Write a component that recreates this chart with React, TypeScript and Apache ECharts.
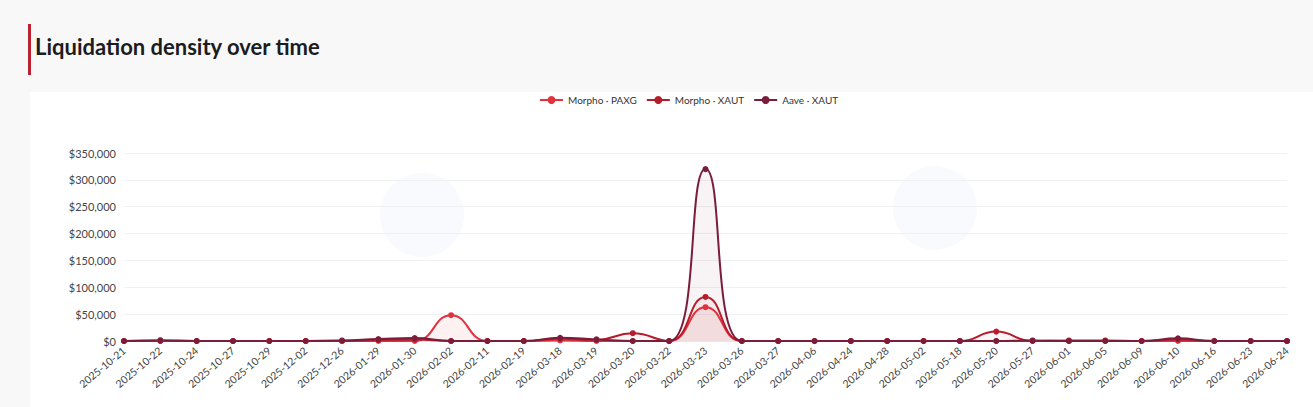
import React, { useEffect, useRef } from "react";
import * as echarts from "echarts";

const categories = [
  "2025-10-21", "2025-10-22", "2025-10-24", "2025-10-27", "2025-10-29", "2025-12-02",
  "2025-12-26", "2026-01-29", "2026-01-30", "2026-02-02", "2026-02-11", "2026-02-19",
  "2026-03-18", "2026-03-19", "2026-03-20", "2026-03-22", "2026-03-23", "2026-03-26",
  "2026-03-27", "2026-04-06", "2026-04-24", "2026-04-28", "2026-05-02", "2026-05-18",
  "2026-05-20", "2026-05-27", "2026-06-01", "2026-06-05", "2026-06-09", "2026-06-10",
  "2026-06-16", "2026-06-23", "2026-06-24",
];

const morphoPaxg = [
  0, 0, 0, 0, 0, 0, 0, 0, 0, 48000, 0, 0, 1000, 0, 0, 0, 63000, 0,
  0, 0, 0, 0, 0, 0, 0, 0, 0, 0, 0, 0, 0, 0, 0,
];

const morphoXaut = [
  0, 0, 0, 0, 0, 0, 0, 2000, 3000, 0, 0, 0, 4000, 2000, 14500, 0, 82000, 0,
  0, 0, 0, 0, 0, 0, 17500, 0, 1000, 1000, 0, 3000, 0, 0, 0,
];

const aaveXaut = [
  0, 1500, 0, 0, 0, 0, 1000, 3500, 5500, 0, 0, 0, 6000, 3000, 0, 0, 320000, 0,
  0, 0, 0, 0, 0, 0, 0, 1000, 0, 0, 0, 5000, 0, 0, 0,
];

const yTicks = { min: 0, max: 350000, interval: 50000 };

const seriesNames = ["Morpho · PAXG", "Morpho · XAUT", "Aave · XAUT"];
const colors = ["#e0323f", "#b51c2c", "#7a1c3a"];
const fills = ["rgba(224,50,63,0.10)", "rgba(181,28,44,0.06)", "rgba(122,28,58,0.08)"];

export default function App() {
  const ref = useRef<HTMLDivElement>(null);
  useEffect(() => {
    document.body.style.margin = "0";
    const chart = echarts.init(ref.current!, undefined, { renderer: "svg" });
    const font = "Lato, 'Noto Sans', sans-serif";
    const data = [morphoPaxg, morphoXaut, aaveXaut];
    chart.setOption({
      animation: false,
      backgroundColor: "#f8f8f9",
      textStyle: { fontFamily: font },
      graphic: [
        { type: "rect", left: 30, top: 92, shape: { width: 1283, height: 315 }, style: { fill: "#ffffff" }, z: -10 },
        { type: "circle", shape: { cx: 422, cy: 215, r: 42 }, style: { fill: "#f9fafd" }, z: -9 },
        { type: "circle", shape: { cx: 935, cy: 208, r: 42 }, style: { fill: "#f9fafd" }, z: -9 },
        { type: "rect", left: 28, top: 24, shape: { width: 3, height: 51 }, style: { fill: "#b8232f" } },
        {
          type: "text",
          left: 35,
          top: 35,
          style: {
            text: "Liquidation density over time",
            fontSize: 22,
            fontWeight: "bold",
            fill: "#1c1c1e",
            fontFamily: font,
          },
        },
      ],
      legend: {
        top: 90,
        left: 534,
        itemWidth: 23,
        itemHeight: 10,
        itemGap: 9,
        textStyle: { fontSize: 10, color: "#333", fontFamily: font },
        data: seriesNames,
      },
      grid: { left: 124, right: 26, top: 153, bottom: 66, containLabel: false },
      xAxis: {
        type: "category",
        boundaryGap: false,
        data: categories,
        axisLine: { lineStyle: { color: "#e6e6e6" } },
        axisTick: { show: false },
        axisLabel: { interval: 0, rotate: 40, fontSize: 10.5, color: "#444", margin: 8, fontFamily: font },
      },
      yAxis: {
        type: "value",
        min: yTicks.min,
        max: yTicks.max,
        interval: yTicks.interval,
        axisLine: { show: false },
        axisTick: { show: false },
        splitLine: { lineStyle: { color: "#eff0f2" } },
        axisLabel: {
          fontSize: 11,
          color: "#444",
          margin: 8,
          fontFamily: font,
          formatter: (v: number) => "$" + v.toLocaleString("en-US"),
        },
      },
      series: seriesNames.map((name, i) => ({
        name,
        type: "line",
        smooth: true,
        data: data[i],
        symbol: "circle",
        symbolSize: 6,
        showSymbol: true,
        lineStyle: { width: 2, color: colors[i] },
        itemStyle: { color: colors[i] },
        areaStyle: { color: fills[i] },
      })),
    });
    return () => chart.dispose();
  }, []);
  return <div ref={ref} style={{ width: 1313, height: 407 }} />;
}
